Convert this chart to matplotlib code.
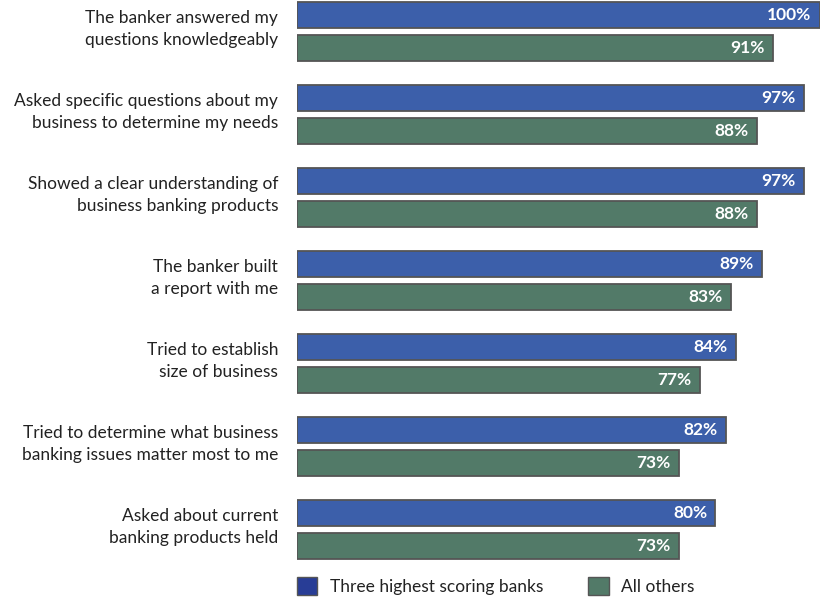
import numpy as np
import matplotlib.pyplot as plt
from matplotlib.patches import Patch

labels = ['The banker answered my\nquestions knowledgeably',
          'Asked specific questions about my\nbusiness to determine my needs',
          'Showed a clear understanding of\nbusiness banking products',
          'The banker built\na report with me',
          'Tried to establish\nsize of business',
          'Tried to determine what business\nbanking issues matter most to me',
          'Asked about current\nbanking products held']
top3 = [100, 97, 97, 89, 84, 82, 80]
others = [91, 88, 88, 83, 77, 73, 73]

plt.rcParams['font.family'] = ['Lato', 'DejaVu Sans']

fig = plt.figure(figsize=(8.28, 6.01), dpi=100)
ax = fig.add_axes([297/828, 41/601, 523/828, 560/601])

y = np.arange(len(labels))
blue = '#3C5FAA'
green = '#527A68'
ax.barh(y - 0.2, top3, height=0.31, color=blue, edgecolor='#555555', linewidth=1.3)
ax.barh(y + 0.2, others, height=0.31, color=green, edgecolor='#555555', linewidth=1.3)

for i in range(len(labels)):
    ax.text(top3[i] - 1.6, y[i] - 0.2, f'{top3[i]}%', color='white', fontsize=12.5,
            fontweight='bold', ha='right', va='center')
    ax.text(others[i] - 1.6, y[i] + 0.2, f'{others[i]}%', color='white', fontsize=12.5,
            fontweight='bold', ha='right', va='center')
    ax.text(-3.6, y[i] - 0.03, labels[i], ha='right', va='center', fontsize=12.5,
            color='#222222', linespacing=1.45)

ax.set_xlim(0, 100)
ax.set_ylim(6.37, -0.38)
ax.axis('off')

handles = [Patch(facecolor='#283D96', edgecolor='#555555', label='Three highest scoring banks'),
           Patch(facecolor=green, edgecolor='#555555', label='All others')]
fig.legend(handles=handles, loc='center left', bbox_to_anchor=(281/828, 15/601), ncol=2,
           frameon=False, fontsize=12.5, handlelength=1.2, handleheight=1.25,
           columnspacing=2.6, handletextpad=0.7, labelcolor='#222222')

plt.savefig('out.png', dpi=100)
